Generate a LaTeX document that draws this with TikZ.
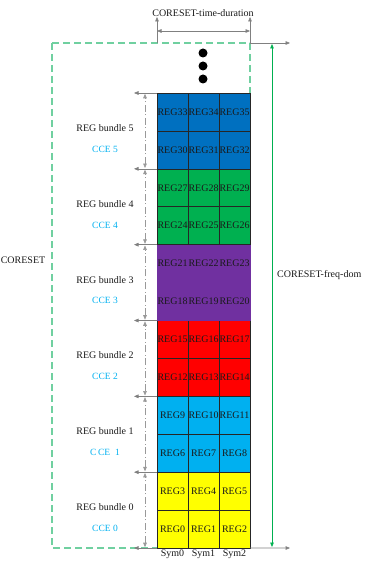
\documentclass[tikz,border=0pt]{standalone}
\usepackage{fontspec}
\setmainfont{Liberation Serif}
\usetikzlibrary{arrows.meta}
\definecolor{cyel}{HTML}{FFFF00}
\definecolor{clb}{HTML}{00B0F0}
\definecolor{cred}{HTML}{FF0000}
\definecolor{cpur}{HTML}{7030A0}
\definecolor{cgrn}{HTML}{00B050}
\definecolor{cblu}{HTML}{0070C0}
\definecolor{dashgrn}{HTML}{70D0A0}
\definecolor{gline}{HTML}{808080}
\definecolor{celltxt}{HTML}{1A1A1A}
\begin{document}
\begin{tikzpicture}[x=1pt,y=-1pt,
  cell/.style={minimum width=31pt,minimum height=37.9167pt,inner sep=0pt,outer sep=0pt,
    draw=black!85,line width=0.6pt,text=celltxt,font=\fontsize{10}{10}\selectfont},
  lbl/.style={inner sep=0pt,font=\fontsize{10}{11}\selectfont,text=black!90},
  ccelbl/.style={inner sep=0pt,font=\fontsize{9.5}{10}\selectfont,text=clb},
  garrow/.style={draw=gline,line width=0.6pt,-{Triangle[length=4.5pt,width=3.6pt]}},
  gdbl/.style={draw=gline,line width=0.6pt,{Triangle[length=4.5pt,width=3.6pt]}-{Triangle[length=4.5pt,width=3.6pt]}},
  dashdot/.style={draw=gline!80,line width=0.6pt,dash pattern=on 7pt off 2.5pt on 1pt off 2.5pt,
    {Triangle[length=4.5pt,width=3.6pt]}-{Triangle[length=4.5pt,width=3.6pt]}},
  coreset/.style={draw=dashgrn,line width=1.1pt,dash pattern=on 7pt off 4pt},
  dot/.style={circle,fill=black,minimum size=9pt,inner sep=0pt}]
\useasboundingbox (0,0) rectangle (369,569);
% CORESET dashed box
\coordinate (boxTL) at (52,43);
\coordinate (boxTR) at (250,43);
\coordinate (boxBL) at (52,548);
\draw[coreset] (boxTL) -- (boxTR) -- (250,100) (boxTL) -- (boxBL) -- (157,548);
% cells
\foreach \b/\fc/\dc in {0/cyel/black!85,1/clb/black!85,2/cred/black!85,3/cpur/cpur,4/cgrn/black!85,5/cblu/black!85}{
  \foreach \r in {0,1}{
    \foreach \c in {0,1,2}{
      \pgfmathtruncatemacro\n{6*\b+3*\r+\c}
      \node[cell,fill=\fc,draw=\dc] (c\n) at ({172.5+31*\c},{548-37.9167*(2*\b+\r)-18.9583}) {REG\n};
    }}}
% dots
\node[dot] (d1) at (203,53) {};
\node[dot] (d2) at (203,66) {};
\node[dot] (d3) at (203,79) {};
% top time-duration dimension
\node[lbl] (tdur) at (203,13) {CORESET-time-duration};
\coordinate (tdL) at (157,17);
\coordinate (tdR) at (250,17);
\coordinate (tbL) at (157,43);
\draw[garrow] (tbL) -- (tdL);
\draw[garrow] (boxTR) -- (tdR);
\coordinate (thL) at (157,31);
\coordinate (thR) at (250,31);
\draw[gdbl] (thL) -- (thR);
% right freq dimension
\coordinate (rt) at (290,43);
\coordinate (rb) at (290,548);
\draw[garrow] (boxTR) -- (rt);
\draw[garrow] (c2.south east) -- (rb);
\coordinate (fT) at (272,44);
\coordinate (fB) at (272,547);
\draw[draw=cgrn,line width=0.7pt,{Triangle[length=4.5pt,width=3.6pt]}-{Triangle[length=4.5pt,width=3.6pt]}] (fT) -- (fB);
\node[lbl,anchor=west] (freq) at (277,275) {CORESET-freq-dom};
% CORESET label
\node[lbl] (cs) at (23,260) {CORESET};
% left bundle markers
\foreach \b in {0,...,6}{
  \coordinate (bnd\b) at (157,{548-75.8333*\b});
  \coordinate (bt\b) at (134,{548-75.8333*\b});
  \draw[garrow] (bnd\b) -- (bt\b);
}
\foreach \b in {0,...,5}{
  \coordinate (va\b) at (145,{548-75.8333*\b-0.8});
  \coordinate (vb\b) at (145,{548-75.8333*(\b+1)+0.8});
  \draw[dashdot] (va\b) -- (vb\b);
  \node[lbl] (lb\b) at (105,{548-75.8333*\b-37.9-3}) {REG bundle \b};
}
\node[ccelbl] (cce0) at (105,528) {CCE 0};
\node[ccelbl] (cce1) at (105,452) {C\,CE\ \ 1};
\node[ccelbl] (cce2) at (105,376) {CCE 2};
\node[ccelbl] (cce3) at (105,300) {CCE 3};
\node[ccelbl] (cce4) at (105,225) {CCE 4};
\node[ccelbl] (cce5) at (105,149) {CCE 5};
% symbol labels
\node[lbl,anchor=north] (s0) at ([yshift=-2pt]c0.south) {Sym0};
\node[lbl,anchor=north] (s1) at ([yshift=-2pt]c1.south) {Sym1};
\node[lbl,anchor=north] (s2) at ([yshift=-2pt]c2.south) {Sym2};
\end{tikzpicture}
\end{document}
